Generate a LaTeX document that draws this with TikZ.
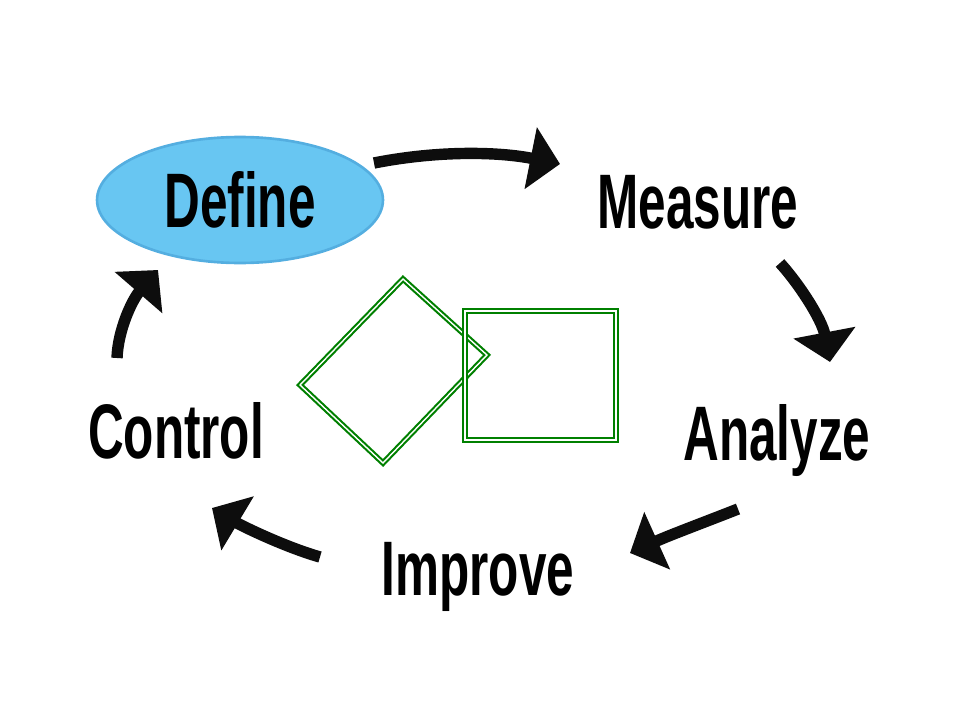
\documentclass[tikz,border=0pt]{standalone}
\usepackage{fontspec}
\setmainfont{Liberation Sans}
\usepackage{graphicx}
\usetikzlibrary{arrows.meta, shapes.geometric}

\definecolor{defineblue}{RGB}{104,198,242}
\definecolor{defineedge}{RGB}{84,174,224}
\definecolor{boxgreen}{RGB}{0,128,0}
\newcommand{\narrowtext}[1]{\scalebox{0.64}[1]{#1}}

\tikzset{
    phase/.style={font=\fontsize{44}{48}\selectfont\bfseries, inner sep=0pt},
    cyclearrow/.style={line width=6.5pt, black!95, -{Triangle[length=17pt, width=35pt]}},
    greenbox/.style={draw=boxgreen, double=white, line width=1.2pt, double distance=0.8pt}
}

\begin{document}
\begin{tikzpicture}[x=0.02cm, y=-0.02cm]
    \useasboundingbox (0,0) rectangle (960,720);
    % Phases
    \node[phase, ellipse, fill=defineblue, draw=defineedge, line width=1.5pt,
          minimum width=5.72cm, minimum height=2.52cm] (define) at (240,200) {\narrowtext{Define}};
    \node[phase, anchor=base] (measure) at (698,228) {\narrowtext{Measure}};
    \node[phase, anchor=base] (analyze) at (777,460) {\narrowtext{Analyze}};
    \node[phase, anchor=base] (improve) at (478,595) {\narrowtext{Improve}};
    \node[phase, anchor=base] (control) at (176,458) {\narrowtext{Control}};
    % Arrow ends
    \coordinate (defineout) at (374,163);
    \coordinate (measurein) at (560,164);
    \coordinate (measureout) at (780,263);
    \coordinate (analyzein) at (830,362);
    \coordinate (analyzeout) at (738,509);
    \coordinate (improvein) at (630,553);
    \coordinate (improveout) at (320,557);
    \coordinate (controlin) at (212,508);
    \coordinate (controlout) at (117,358);
    \coordinate (definein) at (158,270);
    % Arrows
    \draw[cyclearrow] (defineout) .. controls (440,150) and (500,152) .. (measurein);
    \draw[cyclearrow] (measureout) .. controls (800,285) and (822,320) .. (analyzein);
    \draw[cyclearrow] (analyzeout) .. controls (705,522) and (670,535) .. (improvein);
    \draw[cyclearrow] (improveout) .. controls (285,547) and (242,526) .. (controlin);
    \draw[cyclearrow] (controlout) .. controls (118,330) and (132,300) .. (definein);
    % Green shapes
    \draw[greenbox] (403,279) -- (487,355) -- (383,463) -- (300,385) -- cycle;
    \draw[greenbox] (465,311) rectangle (616,440);
\end{tikzpicture}
\end{document}
